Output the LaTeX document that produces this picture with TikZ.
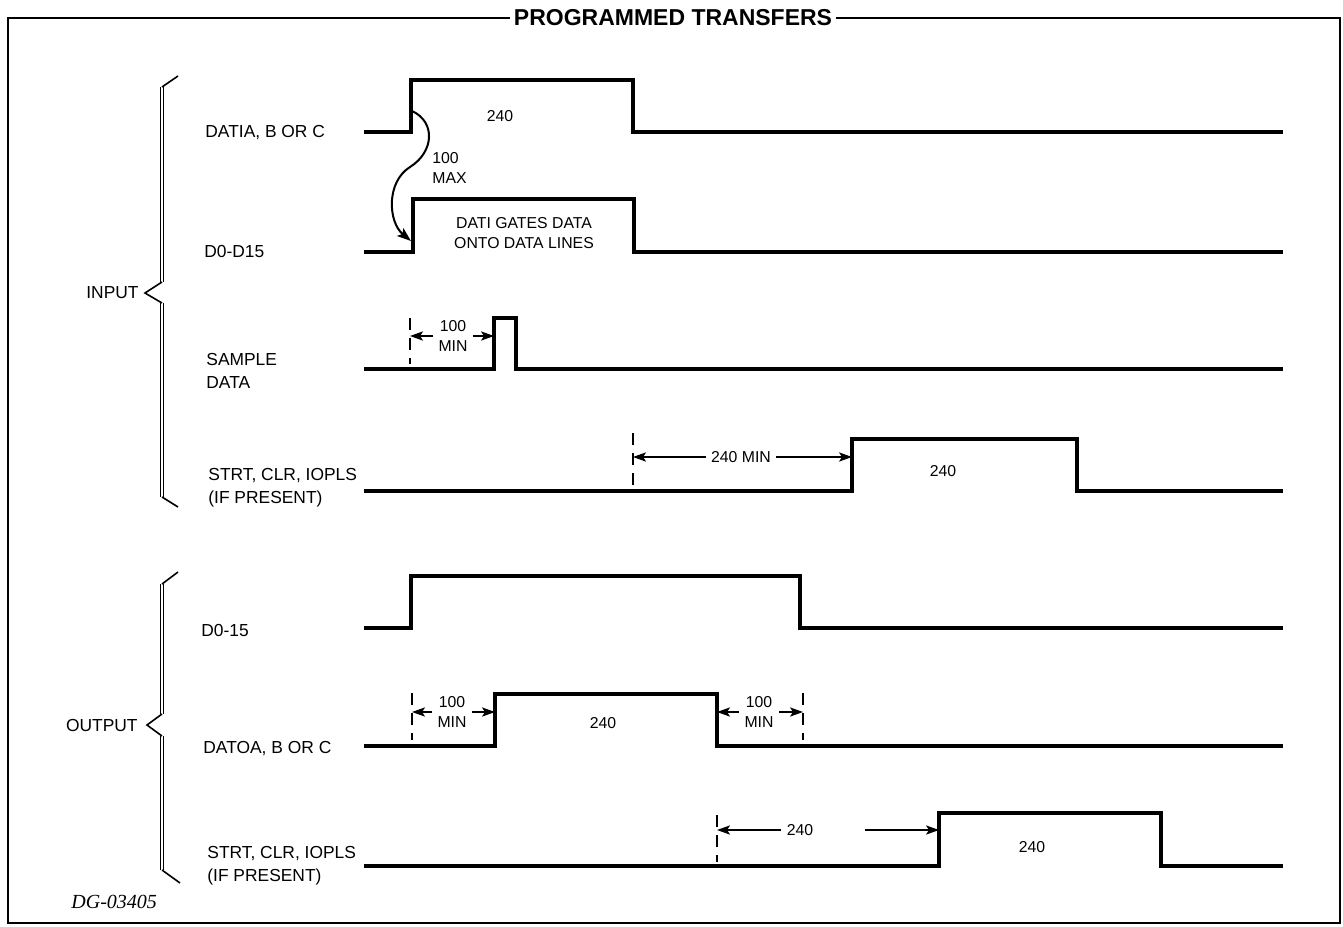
\documentclass[tikz,border=0pt]{standalone}
\usepackage{fontspec}
\setmainfont{Liberation Sans}
\newfontfamily\dgserif{Liberation Serif}
\usetikzlibrary{arrows.meta, positioning}

\begin{document}
\begin{tikzpicture}[
    x=0.5pt, y=-0.5pt,
    wave/.style={line width=2.1pt, line join=miter},
    dimline/.style={line width=0.7pt, -{Stealth[length=6.5pt, width=4.6pt, inset=1.5pt]}},
    guide/.style={line width=0.8pt, dash pattern=on 6pt off 4pt},
    brace/.style={double, double distance=0.7pt, line width=0.55pt},
    bracetip/.style={line width=0.8pt, line join=miter},
    siglabel/.style={anchor=west, align=left, inner sep=0pt, font=\fontsize{8.7}{11.5}\selectfont},
    timing/.style={align=center, inner xsep=2.5pt, inner ysep=0pt, font=\fontsize{7.9}{10}\selectfont},
    grouplabel/.style={anchor=east, inner sep=0pt, font=\fontsize{8.7}{10}\selectfont}
]
\useasboundingbox (0,0) rectangle (1343,926);

% ===== Frame and title =====
\node[font=\fontsize{11.5}{12}\selectfont\bfseries, inner sep=2pt] (title) at (673,18) {PROGRAMMED TRANSFERS};
\draw[line width=1.2pt] (title.west) -- (8,18) -- (8,923) -- (1340,923) -- (1340,18) -- (title.east);

% ===== Input group =====
\draw[brace] (162,87) -- (162,282);
\draw[brace] (162,303) -- (162,497);
\draw[bracetip] (178,76) -- (162,87);
\draw[bracetip] (162,282) -- (145,293) -- (162,303);
\draw[bracetip] (162,497) -- (178,507);
\node[grouplabel] (input) at (139,293) {INPUT};

% DATIA, B OR C
\node[siglabel] (datia) at (205,133) {DATIA, B OR C};
\draw[wave] (364,132) -- (411,132) -- (411,80) -- (633,80) -- (633,132) -- (1283,132);
\node[timing] (datiawidth) at (500,116) {240};

% D0-D15
\node[siglabel] (dlines) at (204,252) {D0-D15};
\draw[wave] (364,252) -- (413,252) -- (413,199) -- (634,199) -- (634,252) -- (1283,252);
\node[timing] (gates) at (524,233) {DATI GATES DATA\\ONTO DATA LINES};

% DATIA to data delay
\coordinate (datiarise) at (412,111);
\coordinate (dlinesrise) at (411,241);
\node[timing, align=left, anchor=west, inner xsep=0pt] (maxdelay) at (432,168) {100\\MAX};
\draw[line width=1pt, -{Stealth[length=7pt, width=5pt, inset=1.5pt]}] (datiarise) .. controls (436,122) and (434,152) .. (410,167) .. controls (386,182) and (388,222) .. (dlinesrise);

% SAMPLE DATA
\node[siglabel] (sample) at (206,371) {SAMPLE\\DATA};
\draw[wave] (364,369) -- (494,369) -- (494,318) -- (516,318) -- (516,369) -- (1283,369);
\draw[guide] (410,318) -- (410,364);
\coordinate (smpref) at (410,336);
\coordinate (smpedge) at (494,336);
\node[timing] (smpmin) at (453,336) {100\\MIN};
\draw[dimline] (smpmin) -- (smpref);
\draw[dimline] (smpmin) -- (smpedge);

% STRT, CLR, IOPLS
\node[siglabel] (strtin) at (208,488) {STRT, CLR, IOPLS\\(IF PRESENT)};
\draw[wave] (364,491) -- (852,491) -- (852,439) -- (1077,439) -- (1077,491) -- (1283,491);
\draw[guide] (633,433) -- (633,488);
\coordinate (strtinref) at (633,457);
\coordinate (strtinedge) at (852,457);
\node[timing] (strtinmin) at (741,457) {240 MIN};
\draw[dimline] (strtinmin) -- (strtinref);
\draw[dimline] (strtinmin) -- (strtinedge);
\node[timing] (strtinwidth) at (943,471) {240};

% ===== Output group =====
\draw[brace] (162,584) -- (162,714);
\draw[brace] (162,736) -- (162,870);
\draw[bracetip] (178,572) -- (162,584);
\draw[bracetip] (162,714) -- (147,725) -- (162,736);
\draw[bracetip] (162,870) -- (180,883);
\node[grouplabel] (output) at (138,725) {OUTPUT};

% D0-15
\node[siglabel] (dout) at (201,631) {D0-15};
\draw[wave] (364,628) -- (411,628) -- (411,576) -- (800,576) -- (800,628) -- (1283,628);

% DATOA, B OR C
\node[siglabel] (datoa) at (203,749) {DATOA, B OR C};
\draw[wave] (364,746) -- (495,746) -- (495,694) -- (717,694) -- (717,746) -- (1283,746);
\draw[guide] (412,693) -- (412,740);
\draw[guide] (803,693) -- (803,740);
\coordinate (setupref) at (412,712);
\coordinate (setupedge) at (495,712);
\coordinate (holdedge) at (717,712);
\coordinate (holdref) at (803,712);
\node[timing] (setupmin) at (452,712) {100\\MIN};
\node[timing] (holdmin) at (759,712) {100\\MIN};
\draw[dimline] (setupmin) -- (setupref);
\draw[dimline] (setupmin) -- (setupedge);
\draw[dimline] (holdmin) -- (holdedge);
\draw[dimline] (holdmin) -- (holdref);
\node[timing] (datoawidth) at (603,723) {240};

% STRT, CLR, IOPLS
\node[siglabel] (strtout) at (207,866) {STRT, CLR, IOPLS\\(IF PRESENT)};
\draw[wave] (364,866) -- (939,866) -- (939,813) -- (1161,813) -- (1161,866) -- (1283,866);
\draw[guide] (717,815) -- (717,862);
\coordinate (strtoutref) at (717,830);
\coordinate (strtoutgap) at (865,830);
\coordinate (strtoutedge) at (939,830);
\node[timing] (strtoutdelay) at (800,830) {240};
\draw[dimline] (strtoutdelay) -- (strtoutref);
\draw[dimline] (strtoutgap) -- (strtoutedge);
\node[timing] (strtoutwidth) at (1032,847) {240};

% Drawing number
\node[anchor=west, inner sep=0pt, font=\dgserif\itshape\fontsize{10}{12}\selectfont] (dgnum) at (71,902) {DG-03405};

\end{tikzpicture}
\end{document}
